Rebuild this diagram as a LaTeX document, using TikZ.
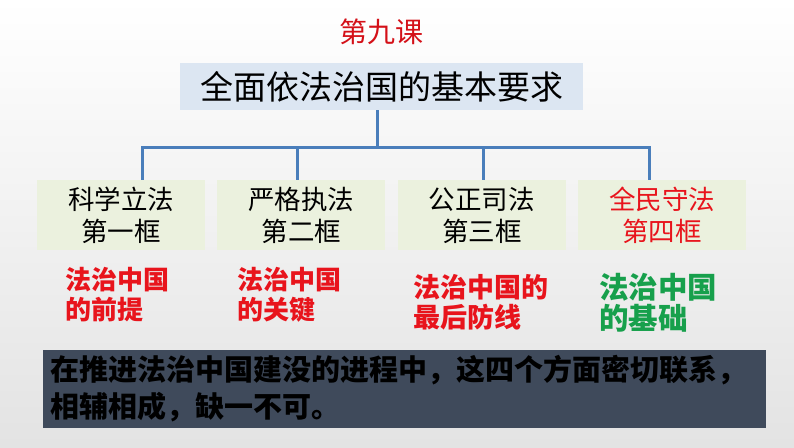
\documentclass[tikz,border=0pt]{standalone}
\usepackage{fontspec}
\setmainfont{Noto Sans CJK SC}
\usepackage{tikz}
\usetikzlibrary{positioning}
\definecolor{headblue}{HTML}{DCE6F2}
\definecolor{framegreen}{HTML}{EBF1DE}
\definecolor{linkblue}{HTML}{4A7EBB}
\definecolor{rolered}{HTML}{E8141C}
\definecolor{rolegreen}{HTML}{17A04C}
\definecolor{titlered}{HTML}{D41018}
\definecolor{slate}{HTML}{3F4A5B}
\tikzset{
x=1pt, y=-1pt, % one unit is one pixel, y runs downwards
every node/.style={inner sep=0pt},
node distance=12pt, % gap between the four frame boxes
head/.style={fill=headblue, minimum width=403pt, minimum height=47pt, font=\fontsize{33}{33}\selectfont},
frame/.style={fill=framegreen, minimum width=168pt, minimum height=70pt, align=center, font=\fontsize{26.5}{32}\selectfont},
role/.style={anchor=west, align=left, text=rolered, font=\bfseries\fontsize{26}{30}\selectfont},
link/.style={draw=linkblue, line width=3pt}, % the tree lines
summary/.style={fill=slate, minimum width=723pt, minimum height=78pt, text width=709pt, align=left, font=\bfseries\fontsize{29}{37}\selectfont},
}
\begin{document}
\begin{tikzpicture}
                \shade[top color=white, bottom color=black!11] (0,0) rectangle (794,447);
                \node[text=titlered, font=\fontsize{28}{28}\selectfont] (title) at (381,32) {第九课};
                \node[head] (top) at (381.5,86.5) {全面依法治国的基本要求};
                \node[frame] (b1) at (121,215) {科学立法\\第一框};
                \node[frame, right=of b1] (b2) {严格执法\\第二框};
                \node[frame, right=of b2] (b3) {公正司法\\第三框};
                \node[frame, right=of b3, text=rolered] (b4) {全民守法\\第四框};
                \coordinate (hub) at (377,147);
                \draw[link] ([xshift=-4.5pt]top.south) -- (hub);
                \draw[link] ([xshift=21pt]b1.north) |- (hub);
                \draw[link] ([xshift=-4pt]b2.north) |- (hub);
                \draw[link] ([xshift=2pt]b3.north) |- (hub);
                \draw[link] ([xshift=-13pt]b4.north) |- (hub);
                \node[role] (r1) at (65,295) {法治中国\\的前提};
                \node[role] (r2) at (237,295) {法治中国\\的关键};
                \node[role, font=\bfseries\fontsize{27}{30}\selectfont] (r3) at (413,302) {法治中国的\\最后防线};
                \node[role, text=rolegreen, font=\bfseries\fontsize{29.5}{31}\selectfont] (r4) at (599,302.5) {法治中国\\的基础};
                \node[summary] (sum) at (404.5,389) {在推进法治中国建没的进程中，这四个方面密切联系，\\相辅相成，缺一不可。};
                \end{tikzpicture}
\end{document}
